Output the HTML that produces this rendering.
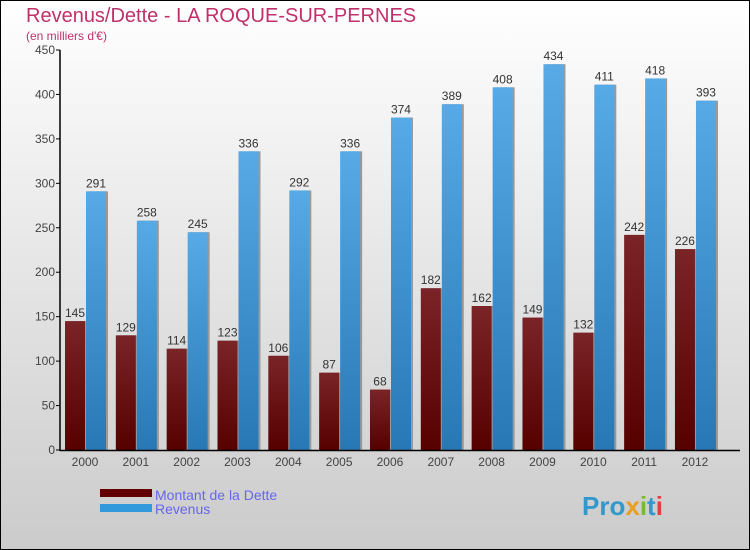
<!DOCTYPE html>
<html><head><meta charset="utf-8"><style>
body{margin:0;}
#c{width:750px;height:550px;position:relative;overflow:hidden;font-family:"Liberation Sans",sans-serif;}
</style></head><body>
<div id="c">
<svg id="s" width="750" height="550" xmlns="http://www.w3.org/2000/svg">
<defs>
<linearGradient id="bg" x1="0" y1="0" x2="0" y2="1"><stop offset="0" stop-color="#ffffff"/><stop offset="1" stop-color="#cbcbcb"/></linearGradient>
<linearGradient id="gd" x1="0" y1="0" x2="0" y2="1"><stop offset="0" stop-color="#7a2428"/><stop offset="1" stop-color="#560000"/></linearGradient>
<linearGradient id="gr" x1="0" y1="0" x2="0" y2="1"><stop offset="0" stop-color="#57aae6"/><stop offset="1" stop-color="#2778b4"/></linearGradient>
</defs>
<rect x="0.5" y="0.5" width="749" height="549" fill="url(#bg)" stroke="#000"/>
<text x="26" y="22" font-size="20" fill="#c0306a">Revenus/Dette - LA ROQUE-SUR-PERNES</text>
<text x="26" y="40" font-size="12" fill="#c0306a">(en milliers d'€)</text>
<g id="grid"></g><g id="bars"></g><g id="axes"></g>
<rect x="100" y="489" width="52" height="8" fill="#600000"/>
<rect x="100" y="504" width="52" height="8" fill="#3399dd"/>
<text x="155" y="500" font-size="14" fill="#6666ee">Montant de la Dette</text>
<text x="155" y="514" font-size="14" fill="#6666ee">Revenus</text>
<text x="582" y="515" font-size="26" font-weight="bold" fill="#3399cc">Pro<tspan fill="#e8a020">x</tspan><tspan fill="#77bb33">i</tspan>t<tspan fill="#e04040">i</tspan></text>
</svg></div>
<script>
const years=["2000","2001","2002","2003","2004","2005","2006","2007","2008","2009","2010","2011","2012"];
const dette=[145,129,114,123,106,87,68,182,162,149,132,242,226];
const revenus=[291,258,245,336,292,336,374,389,408,434,411,418,393];
const ticks=[0,50,100,150,200,250,300,350,400,450];
const NS="http://www.w3.org/2000/svg";
const y=v=>450-v*400/450;
const xc=i=>85+i*50.83;
function mk(t,a,p){const e=document.createElementNS(NS,t);for(const k in a)e.setAttribute(k,a[k]);p.appendChild(e);return e;}
const axes=document.getElementById('axes'),bars=document.getElementById('bars');
ticks.forEach(t=>{
 const l=mk('line',{x1:56,x2:60,y1:y(t),y2:y(t),stroke:'#000'},axes);
 
 
 const tx=mk('text',{x:55,y:y(t)+4,'font-size':12,fill:'#444','text-anchor':'end'},axes);
 tx.textContent=t;
 
 
});
const ya=mk('line',{x1:60,x2:60,y1:50,y2:451,stroke:'#000','stroke-width':1.5},axes);


const xa=mk('line',{x1:60,x2:740,y1:450.5,y2:450.5,stroke:'#000','stroke-width':1.5},axes);


years.forEach((yr,i)=>{
 const c=xc(i);
 const sd=mk('rect',{x:c-20+2,y:y(dette[i]),width:20,height:450-y(dette[i]),fill:'#999'},bars);
 
 
 const sr=mk('rect',{x:c+1+2,y:y(revenus[i]),width:20,height:450-y(revenus[i]),fill:'#999'},bars);
 
 
 const bd=mk('rect',{x:c-20,y:y(dette[i]),width:20,height:450-y(dette[i]),fill:'url(#gd)'},bars);
 
 
 const br=mk('rect',{x:c+1,y:y(revenus[i]),width:20,height:450-y(revenus[i]),fill:'url(#gr)'},bars);
 
 
 const ld=mk('text',{x:c-10,y:y(dette[i])-4,'font-size':12,fill:'#333','text-anchor':'middle'},bars);
 ld.textContent=dette[i];
 
 
 const lr=mk('text',{x:c+11,y:y(revenus[i])-4,'font-size':12,fill:'#333','text-anchor':'middle'},bars);
 lr.textContent=revenus[i];
 
 
 const xl=mk('text',{x:c,y:466,'font-size':12,fill:'#444','text-anchor':'middle'},axes);
 xl.textContent=yr;
 
 
});
</script>
</body></html>
